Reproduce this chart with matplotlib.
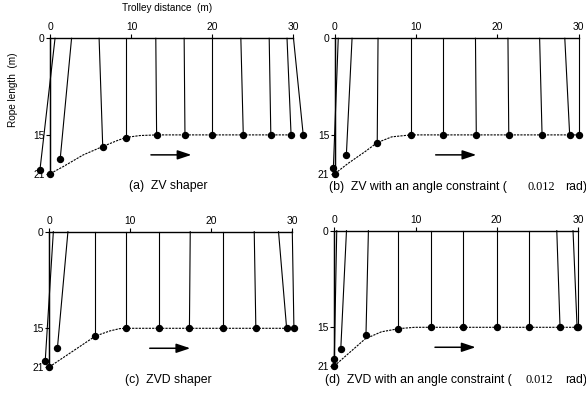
import matplotlib
matplotlib.use("Agg")
import matplotlib.pyplot as plt

plt.rcParams['font.family'] = ['Liberation Sans', 'DejaVu Sans']

W, H = 586, 395

# trolley position (top of rope) and load position for each snapshot
trolley_a = [0, 0.56, 2.6, 6.0, 9.3, 13.0, 16.5, 20.0, 23.5, 27.0, 29.2, 30.0]
load_x_a = [0, -1.3, 1.2, 6.45, 9.3, 13.1, 16.6, 20.0, 23.8, 27.2, 29.7, 31.2]
load_y_a = [21, 20.4, 18.7, 16.9, 15.5, 15, 15, 15, 15, 15, 15, 15]
path_x_a = [0, 1.6, 4.05, 6.45, 8.2, 9.3, 11.05, 13.1, 30]
path_y_a = [21, 19.9, 18.1, 16.8, 15.9, 15.4, 15.1, 15.0, 15.0]

trolley_b = [0, 0.4, 2.1, 5.3, 9.3, 13.3, 17.3, 21.3, 25.2, 28.3, 30.0]
load_x_b = [0, -0.2, 1.4, 5.2, 9.3, 13.3, 17.4, 21.4, 25.5, 28.9, 30.0]
load_y_b = [21, 20.1, 18.1, 16.2, 15, 15, 15, 15, 15, 15, 15]
path_x_b = [0, 1.64, 3.7, 5.2, 7.0, 9.35, 30]
path_y_b = [21, 19.4, 17.6, 16.2, 15.3, 15.0, 15.0]

trolley_c = [0, 0.5, 2.3, 5.6, 9.5, 13.5, 17.4, 21.4, 25.3, 28.3, 30.0]
load_x_c = [0, -0.5, 1.0, 5.6, 9.5, 13.5, 17.3, 21.4, 25.5, 29.3, 30.2]
load_y_c = [21, 20.0, 18.1, 16.2, 15, 15, 15, 15, 15, 15, 15]
path_x_c = [0, 5.7, 7.5, 8.7, 9.5, 30]
path_y_c = [21, 16.2, 15.4, 15.05, 15.0, 15.0]

trolley_d = [0, 0.3, 1.5, 4.2, 7.9, 11.9, 15.9, 20.0, 24.0, 27.4, 29.4, 30.0]
load_x_d = [0, 0.0, 0.8, 3.9, 7.9, 11.9, 15.9, 20.0, 24.0, 27.8, 29.9, 30.0]
load_y_d = [21, 19.9, 18.3, 16.2, 15.2, 15, 15, 15, 15, 15, 15, 15]
path_x_d = [0, 1.72, 3.8, 5.8, 8.0, 9.9, 30]
path_y_d = [21, 19.1, 16.8, 15.7, 15.2, 15.0, 15.0]

x_ticks = [0, 10, 20, 30]
y_ticks = [0, 15, 21]

fig = plt.figure(figsize=(W / 100, H / 100), dpi=100)


def panel(x0, y0, sx, trolley, lx, ly, px, py):
    sy = 6.44
    xlo, xhi, ylo, yhi = -2, 32, -1, 22
    left = (x0 + xlo * sx) / W
    width = (xhi - xlo) * sx / W
    bottom = 1 - (y0 + yhi * sy) / H
    height = (yhi - ylo) * sy / H
    ax = fig.add_axes([left, bottom, width, height])
    ax.set_xlim(xlo, xhi)
    ax.set_ylim(yhi, ylo)
    ax.patch.set_visible(False)
    for s in ['right', 'bottom']:
        ax.spines[s].set_visible(False)
    ax.spines['top'].set_position(('data', 0))
    ax.spines['left'].set_position(('data', 0))
    ax.spines['top'].set_bounds(0, 30)
    ax.spines['left'].set_bounds(0, 21)
    ax.spines['top'].set_linewidth(1.0)
    ax.spines['left'].set_linewidth(1.0)
    ax.xaxis.set_ticks_position('top')
    ax.yaxis.set_ticks_position('left')
    ax.set_xticks(x_ticks)
    ax.set_yticks(y_ticks)
    ax.tick_params(direction='out', length=3.2, width=0.8, labelsize=7.4, pad=1)

    for t, x, y in zip(trolley, lx, ly):
        ax.plot([t, x], [0, y], color='black', lw=0.8, clip_on=False)
    ax.plot(px, py, color='black', lw=0.8, ls=(0, (2, 1)), clip_on=False)
    ax.plot(lx, ly, 'o', color='black', ms=4.3, clip_on=False)
    ax.annotate('', xy=(17.4, 18.1), xytext=(12.4, 18.1),
                arrowprops=dict(arrowstyle='-|>,head_length=0.6,head_width=0.2',
                                color='black', lw=1.1,
                                mutation_scale=14, shrinkA=0, shrinkB=0))
    return ax


panel(50.5, 38.3, 8.1, trolley_a, load_x_a, load_y_a, path_x_a, path_y_a)
panel(335.0, 38.3, 8.12, trolley_b, load_x_b, load_y_b, path_x_b, path_y_b)
panel(49.3, 231.7, 8.1, trolley_c, load_x_c, load_y_c, path_x_c, path_y_c)
panel(334.3, 230.7, 8.12, trolley_d, load_x_d, load_y_d, path_x_d, path_y_d)


def ftext(x, y, s, **kw):
    fig.text(x / W, 1 - y / H, s, **kw)


ftext(167, 8, 'Trolley distance  (m)', fontsize=7.2, ha='center', va='center')
ftext(13, 90, 'Rope length  (m)', fontsize=7.2, ha='center', va='center', rotation=90)

cap = 8.8
ftext(168, 186, '(a)  ZV shaper', fontsize=cap, ha='center', va='center')
ftext(168, 380, '(c)  ZVD shaper', fontsize=cap, ha='center', va='center')

ftext(329, 186.5, '(b)  ZV with an angle constraint (', fontsize=cap, ha='left', va='center')
ftext(527, 186.5, '0.012', fontsize=cap, ha='left', va='center', family='Liberation Serif')
ftext(565, 186.5, 'rad)', fontsize=cap, ha='left', va='center')

ftext(325, 380, '(d)  ZVD with an angle constraint (', fontsize=cap, ha='left', va='center')
ftext(526, 380, '0.012', fontsize=cap, ha='left', va='center', family='Liberation Serif')
ftext(565, 380, 'rad)', fontsize=cap, ha='left', va='center')

fig.savefig('out.png', dpi=100)
